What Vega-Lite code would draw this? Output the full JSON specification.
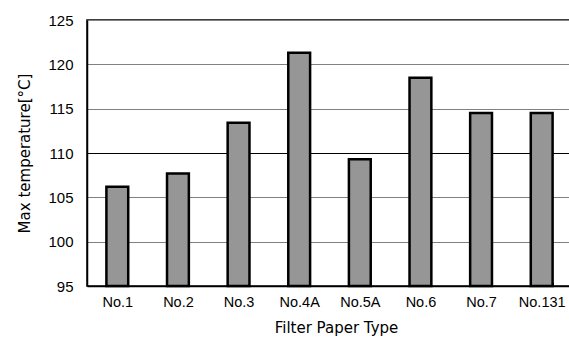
{
  "$schema": "https://vega.github.io/schema/vega-lite/v6.json",
  "width": 485,
  "height": 266,
  "autosize": {"type": "none"},
  "padding": {"left": 87, "top": 20, "right": -3, "bottom": 66},
  "background": "white",
  "config": {"view": {"stroke": "black", "strokeWidth": 1.5}},
  "data": {"values": [
    {"type": "No.1", "temp": 106.2},
    {"type": "No.2", "temp": 107.7},
    {"type": "No.3", "temp": 113.4},
    {"type": "No.4A", "temp": 121.3},
    {"type": "No.5A", "temp": 109.3},
    {"type": "No.6", "temp": 118.5},
    {"type": "No.7", "temp": 114.5},
    {"type": "No.131", "temp": 114.5}
  ]},
  "mark": {"type": "bar", "fill": "#969696", "stroke": "black", "strokeWidth": 2.5},
  "encoding": {
    "x": {
      "field": "type", "type": "nominal", "sort": null,
      "scale": {"paddingInner": 0.64, "paddingOuter": 0.32},
      "axis": {
        "title": "Filter Paper Type",
        "titleFont": "DejaVu Sans", "titleFontSize": 15, "titleFontWeight": "normal", "titleColor": "black",
        "titlePadding": 12, "titleX": 249,
        "labelAngle": 0, "labelFont": "Liberation Sans", "labelFontSize": 14.5, "labelColor": "black",
        "labelPadding": 13,
        "tickBand": "extent", "tickSize": -4, "tickColor": "black",
        "domainColor": "black", "domainWidth": 1.5, "grid": false
      }
    },
    "y": {
      "field": "temp", "type": "quantitative",
      "scale": {"domain": [95, 125], "zero": false, "nice": false},
      "axis": {
        "title": "Max temperature[°C]",
        "titleFont": "DejaVu Sans", "titleFontSize": 15, "titleFontWeight": "normal", "titleColor": "black",
        "titlePadding": 15, "titleY": 133, "titleAnchor": "middle",
        "values": [95, 100, 105, 110, 115, 120, 125],
        "labelFont": "Liberation Sans", "labelFontSize": 15, "labelColor": "black",
        "ticks": false, "labelPadding": 14,
        "domainColor": "black", "domainWidth": 1.5,
        "grid": true,
        "gridColor": {"condition": {"test": "datum.value === 110", "value": "black"}, "value": "#808080"},
        "gridOpacity": 1, "gridWidth": 1.2
      }
    },
    "y2": {"datum": 95}
  }
}
